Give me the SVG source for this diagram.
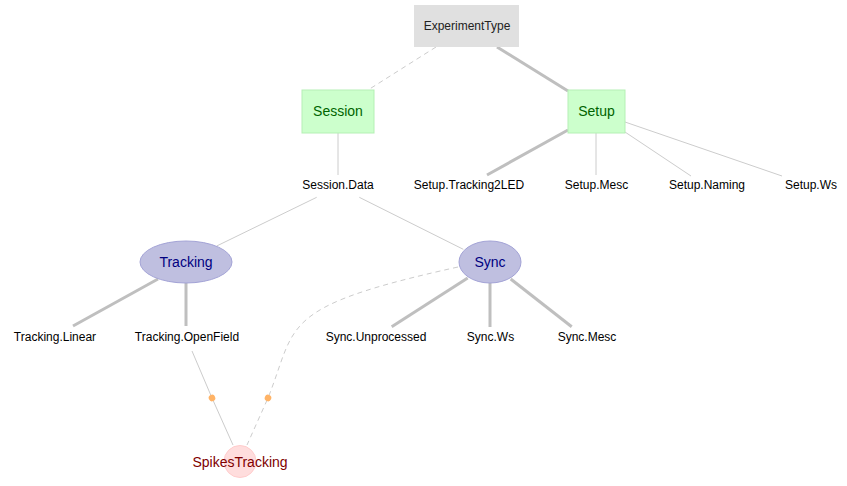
<svg xmlns="http://www.w3.org/2000/svg" width="847" height="486" viewBox="0 0 847 486">
<style>
text{font-family:"Liberation Sans",Arial,sans-serif;text-anchor:middle}
.leaf{font-size:12px;fill:#000}
.thin{stroke:#cccccc;stroke-width:1;fill:none}
.thick{stroke:#bfbfbf;stroke-width:3;fill:none}
.dash{stroke:#cccccc;stroke-width:1;fill:none;stroke-dasharray:5,4}
.box{fill:#ccffcc;stroke:#b5f0b5;stroke-width:1}
.grp{font-size:14px;fill:#006400}
.ell{fill:#bfbfe0;stroke:#a3a3d6;stroke-width:1}
.cls{font-size:14px;fill:#000080}
.mid{marker-mid:url(#dot)}
</style>
<defs>
<marker id="dot" viewBox="-4 -4 8 8" markerWidth="8" markerHeight="8" refX="0" refY="0" markerUnits="userSpaceOnUse" orient="auto">
<circle r="3.3" fill="#ffb366"/>
</marker>
</defs>
<rect width="847" height="486" fill="#ffffff"/>
<g id="connectors">
<line class="dash" x1="436" y1="47" x2="368" y2="90"/>
<line class="thick" x1="497" y1="47" x2="568" y2="91"/>
<line class="thin" x1="338" y1="133" x2="338" y2="175"/>
<line class="thick" x1="568" y1="130" x2="487" y2="175"/>
<line class="thin" x1="596" y1="133" x2="596" y2="175"/>
<line class="thin" x1="625" y1="132" x2="691" y2="176"/>
<line class="thin" x1="625" y1="122" x2="782" y2="176"/>
<line class="thin" x1="316.7" y1="197.3" x2="216.7" y2="246"/>
<line class="thin" x1="359.3" y1="197.3" x2="463.3" y2="249.3"/>
<line class="thick" x1="158" y1="279" x2="73" y2="326"/>
<line class="thick" x1="186" y1="283" x2="186" y2="326"/>
<line class="thick" x1="467.7" y1="278" x2="391.7" y2="326.7"/>
<line class="thick" x1="490" y1="283" x2="490" y2="327"/>
<line class="thick" x1="510.7" y1="279" x2="571.7" y2="326.7"/>
<path class="thin mid" d="M192,351 L212,398 L233,445"/>
<path class="dash mid" d="M458,267 C277,307 297.5,324 268,398 L247,445"/>
</g>
<g id="ExperimentType">
<rect x="414" y="5" width="105" height="42" fill="#e0e0e0"/>
<text x="467" y="30" font-size="12" fill="#222">ExperimentType</text>
</g>
<g id="Session">
<rect class="box" x="302" y="90" width="72" height="43"/>
<text class="grp" x="338" y="116">Session</text>
</g>
<g id="Setup">
<rect class="box" x="568" y="90" width="57" height="43"/>
<text class="grp" x="596.5" y="116">Setup</text>
</g>
<g id="Session.Data"><text class="leaf" x="338" y="189">Session.Data</text></g>
<g id="Setup.Tracking2LED"><text class="leaf" x="469" y="189">Setup.Tracking2LED</text></g>
<g id="Setup.Mesc"><text class="leaf" x="596.5" y="189">Setup.Mesc</text></g>
<g id="Setup.Naming"><text class="leaf" x="707" y="189">Setup.Naming</text></g>
<g id="Setup.Ws"><text class="leaf" x="811" y="189">Setup.Ws</text></g>
<g id="Tracking">
<ellipse class="ell" cx="186" cy="262" rx="46" ry="21"/>
<text class="cls" x="186" y="267">Tracking</text>
</g>
<g id="Sync">
<ellipse class="ell" cx="490" cy="262" rx="31" ry="21"/>
<text class="cls" x="490" y="267">Sync</text>
</g>
<g id="Tracking.Linear"><text class="leaf" x="55" y="341">Tracking.Linear</text></g>
<g id="Tracking.OpenField"><text class="leaf" x="187" y="341">Tracking.OpenField</text></g>
<g id="Sync.Unprocessed"><text class="leaf" x="376" y="341">Sync.Unprocessed</text></g>
<g id="Sync.Ws"><text class="leaf" x="490.5" y="341">Sync.Ws</text></g>
<g id="Sync.Mesc"><text class="leaf" x="587" y="341">Sync.Mesc</text></g>
<g id="SpikesTracking">
<circle cx="240" cy="461.5" r="16" fill="#ffdddd" stroke="#ffcccc" stroke-width="1"/>
<text x="240" y="466.5" font-size="14" fill="#800000">SpikesTracking</text>
</g>
</svg>
